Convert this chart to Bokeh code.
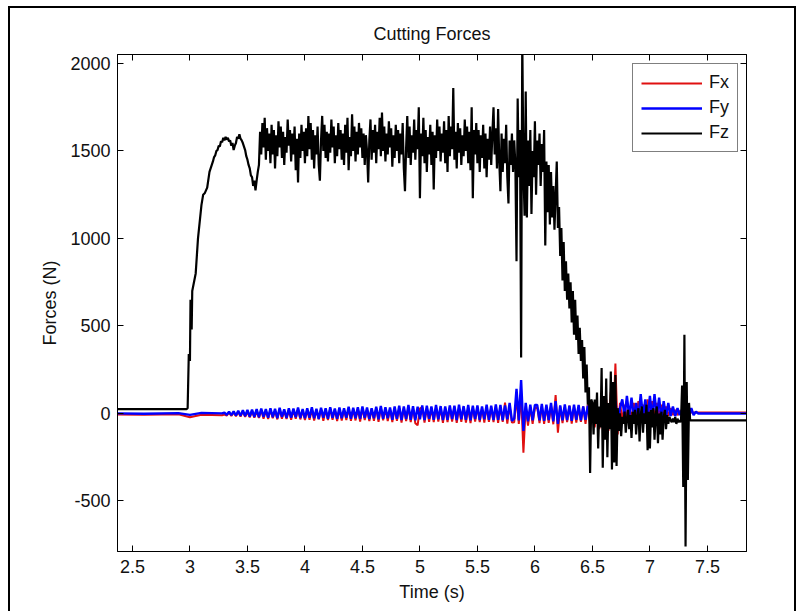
import numpy as np
from bokeh.plotting import figure
from bokeh.models import LinearAxis, FixedTicker, Range1d, Legend, LegendItem
from bokeh.embed import file_html
from bokeh.resources import INLINE

# ---------------- data ----------------
x_ticks = [2.5, 3.0, 3.5, 4.0, 4.5, 5.0, 5.5, 6.0, 6.5, 7.0, 7.5]
x_tick_labels = ["2.5", "3", "3.5", "4", "4.5", "5", "5.5", "6", "6.5", "7", "7.5"]
y_ticks = [-500, 0, 500, 1000, 1500, 2000]
y_tick_labels = ["-500", "0", "500", "1000", "1500", "2000"]
x_limits = [2.37, 7.84]
y_limits = [-789, 2051]
series_names = ["Fx", "Fy", "Fz"]
series_colors = ["#e01010", "#0000ff", "#000000"]

# Fz: idle level and ramp-up (irregular time points)
fz_rise_t = [2.37, 2.97, 2.98, 2.99, 3.00, 3.005, 3.01, 3.015, 3.02, 3.05, 3.07,
             3.10, 3.115, 3.13, 3.15, 3.17, 3.19]
fz_rise_v = [25, 25, 30, 340, 300, 650, 520, 480, 700, 800, 1000,
             1190, 1250, 1260, 1290, 1380, 1420]
# Fz: sampled every 0.01 s from 3.20 s
fz_dense_t0 = 3.20
fz_dense_dt = 0.01
fz_dense_v = [
    1440, 1465, 1475, 1500, 1505, 1530, 1525, 1555, 1550, 1575,
    1560, 1580, 1565, 1575, 1555, 1560, 1530, 1545, 1505, 1530,
    1545, 1580, 1570, 1595, 1570, 1560, 1545, 1525, 1505, 1470,
    1450, 1420, 1400, 1360, 1350, 1300, 1330, 1275, 1330, 1380,
    1420, 1610, 1480, 1660, 1520, 1690, 1450, 1630, 1500, 1600,
    1430, 1650, 1480, 1620, 1400, 1590, 1470, 1670, 1520, 1640,
    1460, 1610, 1420, 1580, 1490, 1680, 1530, 1620, 1440, 1600,
    1480, 1640, 1390, 1570, 1320, 1600, 1460, 1650, 1500, 1610,
    1430, 1630, 1470, 1700, 1510, 1660, 1450, 1620, 1400, 1590,
    1480, 1640, 1420, 1330, 1560, 1700, 1500, 1650, 1460, 1610,
    1440, 1600, 1490, 1680, 1520, 1640, 1430, 1590, 1470, 1660,
    1510, 1620, 1450, 1600, 1420, 1650, 1490, 1690, 1390, 1580,
    1470, 1710, 1500, 1640, 1440, 1610, 1480, 1660, 1520, 1630,
    1460, 1600, 1420, 1590, 1500, 1320, 1560, 1680, 1450, 1620,
    1490, 1650, 1430, 1610, 1510, 1690, 1470, 1720, 1500, 1640,
    1440, 1600, 1480, 1670, 1520, 1630, 1410, 1590, 1460, 1650,
    1500, 1620, 1430, 1600, 1480, 1660, 1400, 1270, 1520, 1700,
    1460, 1640, 1420, 1590, 1490, 1680, 1450, 1620, 1510, 1750,
    1230, 1600, 1470, 1690, 1430, 1620, 1380, 1580, 1480, 1650,
    1420, 1610, 1280, 1590, 1460, 1680, 1500, 1640, 1440, 1600,
    1490, 1670, 1430, 1620, 1380, 1700, 1470, 1640, 1510, 1860,
    1450, 1610, 1400, 1660, 1490, 1630, 1420, 1590, 1470, 1680,
    1500, 1640, 1430, 1610, 1390, 1750, 1230, 1620, 1480, 1660,
    1430, 1620, 1380, 1590, 1460, 1650, 1400, 1600, 1350, 1570,
    1450, 1640, 1420, 1600, 1750, 1480, 1630, 1400, 1740, 1440,
    1270, 1600, 1380, 1570, 1430, 1650, 1350, 1200, 1560, 1420,
    1600, 1380, 1560, 1420, 870, 1800, 1350, 1620, 320, 2150,
    1400, 1130, 1840, 1120, 1560, 1300, 1620, 1140, 1500, 1350,
    1670, 1250, 1560, 1420, 1600, 1300, 1540, 1380, 1620, 960,
    1440, 1150, 1420, 1080, 1380, 1120, 1300, 1050, 1250, 1440,
    1060, 1180, 900, 1060, 760, 980, 700, 870, 650, 800,
    600, 750, 520, 700, 450, 650, 420, 560, 340, 490,
    300, 420, 200, 380, 120, 280, 50, 150, -340, 80,
    60, -120, 80, -60, 120, -200, 40, -80, 260, -310,
    100, -150, 200, -250, 60, -90, 240, -320, 180, -280,
    220, -300, 30, -100, 0, -130, -20, -60, 10, -110,
    -30, 20, -90, -10, -140, 10, -60, 20, -120, -20,
    30, -160, -10, 40, -110, 0, -60, 50, -210, 10,
    -200, 20, -80, 30, -150, -10, 40, -170, 0, -120,
    10, -150, -20, 20, -90, -10, -60, -20, -40, -50,
    -30, -50, -20, -60, -30, -50, -40, -50, 160, -420,
    450, -760, 180, -380, 60, -40,
]
fz_tail_t = [7.36, 7.84]
fz_tail_v = [-40, -40]

# Fx / Fy: idle part, then sampled every 0.02 s from 3.30 s, then idle
fxy_pre_t = [2.37, 2.60, 2.90, 3.00, 3.10, 3.28]
fx_pre_v = [-6, -8, -5, -22, -8, -10]
fy_pre_v = [0, -2, 2, -8, 3, 0]
fxy_dense_t0 = 3.30
fxy_dense_dt = 0.02
fx_dense_v = [
    -6, -12, 4, -15, 6, -16, 8, -18, 10, -20, 8, -22, 12, -24, 10, -26,
    18, -30, 15, -32, 20, -28, 16, -34, 22, -30, 14, -32, 20, -36, 18, -30, 24, -34, 16, -38,
    20, -36, 24, -40, 18, -34, 26, -42, 20, -38, 28, -36, 22, -44, 24, -40, 20, -38, 26, -42,
    24, -40, 28, -46, 30, -38, 22, -44, 26, -42, 30, -48, 32, -40, 26, -44, 24, -50, 30, -42,
    32, -52, 30, -44, 36, -50, 30, -56, -68, 28, 34, -52, 32, -48, 30, -50, 36, -46, 32, -54,
    30, -50, 34, -46, 38, -54, 30, -48, 36, -52, 32, -56, 34, -46, 38, -50, 30, -52, 36, -48,
    34, -50, 40, -54, 36, -48, 62, -58, 44, -52,
    -50, 90, -60, 110, -225, 40, -70, 36, -60, 30,
    36, -56, 42, -60, 38, -54, 40, -62, 105, -110,
    40, -55, 36, -50, 44, -58, 38, -52, 34, -48,
    40, -60, 50, -70, 60, -80, 40, -90, 70, -60,
    80, -100, 120, -90, 285, -120, 60, -40, 50, -30,
    40, -30, 60, -25, 70, -30, 50, -20, 80, -30,
    70, -25, 60, -20, 50, -20, 40, -15, 30, -10,
    20, -10, 15, -8, 12, -10, 8, 5, 6, 5,
]
fy_dense_v = [
    5, -8, 10, -10, 12, -12, 15, -14, 18, -15, 20, -18, 22, -20, 25, -22,
    28, -20, 25, -25, 30, -22, 26, -28, 32, -20, 24, -26, 30, -24, 28, -22, 34, -26, 25, -28,
    30, -25, 35, -28, 26, -32, 33, -24, 30, -30, 36, -26, 28, -30, 34, -28, 30, -25, 38, -30,
    32, -28, 36, -30, 40, -26, 34, -32, 30, -28, 38, -34, 42, -30, 36, -28, 34, -36, 40, -30,
    44, -38, 40, -32, 48, -36, 42, -40, 38, -34, 46, -38, 44, -30, 40, -36, 48, -34, 42, -38,
    40, -36, 46, -32, 44, -38, 50, -34, 42, -36, 48, -40, 44, -32, 46, -38, 40, -34, 50, -36,
    44, -38, 52, -36, 48, -40, 46, -34, 60, -42,
    -30, 140, -40, 190, -100, 60, -45, 50, -40, 48,
    48, -40, 55, -42, 50, -38, 60, -45, 70, -60,
    46, -40, 52, -38, 44, -42, 50, -36, 48, -40,
    40, -36, 44, -40, 30, -30, 36, -34, 40, -38,
    50, -46, 60, -40, 70, -55, 30, 80, -20, 100,
    -20, 90, -25, 60, -30, 110, -20, 80, -30, 100,
    -25, 110, -20, 90, -30, 70, -20, 60, -15, 40,
    -15, 30, -10, 25, -12, 20, -20, 30, -10, 10,
]
fxy_post_t = [7.42, 7.84]
fx_post_v = [5, 5]
fy_post_v = [0, 0]

# ---------------- assemble series ----------------
def grid(t0, dt, n):
    return list(np.round(t0 + dt * np.arange(n), 4))

fz_t = fz_rise_t + grid(fz_dense_t0, fz_dense_dt, len(fz_dense_v)) + fz_tail_t
fz_v = fz_rise_v + fz_dense_v + fz_tail_v
fx_t = fxy_pre_t + grid(fxy_dense_t0, fxy_dense_dt, len(fx_dense_v)) + fxy_post_t
fx_v = fx_pre_v + fx_dense_v + fx_post_v
fy_t = fxy_pre_t + grid(fxy_dense_t0, fxy_dense_dt, len(fy_dense_v)) + fxy_post_t
fy_v = fy_pre_v + fy_dense_v + fy_post_v

# ---------------- figure ----------------
FONT = "Liberation Sans"
FS = "18px"
TXT = "#111111"

p = figure(width=788, height=605, output_backend="svg", toolbar_location=None,
           x_range=Range1d(*x_limits), y_range=Range1d(*y_limits),
           title="Cutting Forces",
           min_border_left=107, min_border_right=52, min_border_top=46, min_border_bottom=62,
           styles={"margin-left": "8px", "margin-top": "6px",
                   "border-left": "2px solid #000", "border-top": "2px solid #000",
                   "border-right": "2px solid #000"})
p.background_fill_color = "white"
p.border_fill_color = "white"
p.outline_line_color = "black"
p.outline_line_width = 1
p.grid.visible = False

p.title.text_font = FONT
p.title.text_font_size = FS
p.title.text_font_style = "normal"
p.title.align = "center"
p.title.text_color = TXT
p.title.standoff = 21

xaxis_b = p.below[0]
yaxis_l = p.left[0]

rx = p.line(fx_t, fx_v, line_color=series_colors[0], line_width=2.0)
ry = p.line(fy_t, fy_v, line_color=series_colors[1], line_width=2.4)
rz = p.line(fz_t, fz_v, line_color=series_colors[2], line_width=2.2)

top_axis = LinearAxis()
right_axis = LinearAxis()
p.add_layout(top_axis, "above")
p.add_layout(right_axis, "right")

xover = {t: s for t, s in zip(x_ticks, x_tick_labels)}
yover = {t: s for t, s in zip(y_ticks, y_tick_labels)}

for ax in [xaxis_b, top_axis]:
    ax.ticker = FixedTicker(ticks=x_ticks)
for ax in [yaxis_l, right_axis]:
    ax.ticker = FixedTicker(ticks=y_ticks)

for ax in [xaxis_b, yaxis_l, top_axis, right_axis]:
    ax.major_tick_in = 6
    ax.major_tick_out = 0
    ax.minor_tick_line_color = None
    ax.axis_line_color = "black"
    ax.major_tick_line_color = "black"
    ax.major_label_text_font = FONT
    ax.major_label_text_font_size = FS
    ax.major_label_text_color = TXT
    ax.axis_label_text_font = FONT
    ax.axis_label_text_font_size = FS
    ax.axis_label_text_font_style = "normal"
    ax.axis_label_text_color = TXT

for ax in [top_axis, right_axis]:
    ax.major_label_text_font_size = "1px"
    ax.major_label_text_color = None
    ax.major_label_standoff = 0

xaxis_b.major_label_overrides = xover
yaxis_l.major_label_overrides = yover
xaxis_b.axis_label = "Time (s)"
yaxis_l.axis_label = "Forces (N)"
xaxis_b.major_label_standoff = 8
xaxis_b.axis_label_standoff = 6
yaxis_l.major_label_standoff = 7
yaxis_l.axis_label_standoff = 7

legend = Legend(items=[LegendItem(label=series_names[0], renderers=[rx]),
                       LegendItem(label=series_names[1], renderers=[ry]),
                       LegendItem(label=series_names[2], renderers=[rz])],
                location=(515, 399))
legend.margin = 0
legend.padding = 8
legend.spacing = 4
legend.label_height = 20
legend.glyph_height = 20
legend.glyph_width = 61
legend.label_standoff = 7
legend.label_text_font = FONT
legend.label_text_font_size = FS
legend.label_text_color = TXT
legend.border_line_color = "black"
legend.border_line_width = 1
legend.background_fill_color = "white"
legend.background_fill_alpha = 1.0
p.add_layout(legend)

open("out.html", "w").write(file_html(p, INLINE))
